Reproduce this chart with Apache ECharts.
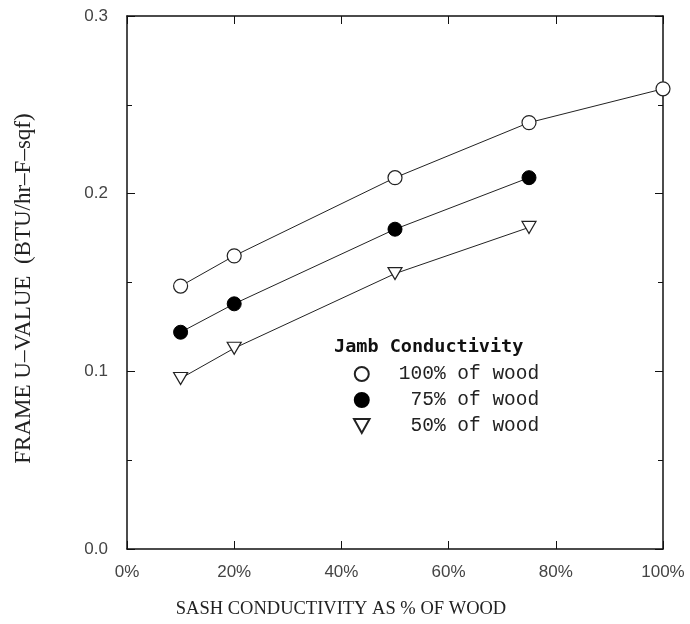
<!DOCTYPE html>
<html>
<head>
<meta charset="utf-8">
<script src="https://cdn.jsdelivr.net/npm/echarts@6/dist/echarts.min.js"></script>
<style>
  html, body { margin: 0; padding: 0; background: #fff; }
  #chart { width: 690px; height: 624px; }
</style>
</head>
<body>
<div id="chart"></div>
<script>
// sash conductivity (% of wood)
var sash = [10, 20, 50, 75, 100];
// frame U-value for each jamb conductivity
var jamb100 = [0.148, 0.165, 0.209, 0.240, 0.259];
var jamb75 = [0.122, 0.138, 0.180, 0.209];
var jamb50 = [0.096, 0.113, 0.155, 0.181];
var seriesNames = ['100% of wood', '75% of wood', '50% of wood'];

function pairs(xs, ys) {
    return ys.map(function (y, i) { return [xs[i], y]; });
}

var chart = echarts.init(document.getElementById('chart'));

var mono = 'Liberation Mono';
var sans = 'Liberation Sans';
var serif = 'Liberation Serif';
var axisLine = { show: true, onZero: false, lineStyle: { color: '#111', width: 1.5 } };
var tick = { show: true, inside: true, length: 8, lineStyle: { color: '#111' } };
var downTri = 'path://M0,0 L10,0 L5,9 Z';

var option = {
    backgroundColor: '#fff',
    animation: false,
    grid: { left: 127, right: 27, top: 16, bottom: 75, outerBoundsMode: 'none' },
    xAxis: [{
        type: 'value', min: 0, max: 100, interval: 20,
        axisLine: axisLine, axisTick: tick,
        axisLabel: { color: '#444', fontFamily: sans, fontSize: 17, margin: 15,
            formatter: function (v) { return v + '%'; } },
        splitLine: { show: false },
        name: 'SASH CONDUCTIVITY AS % OF WOOD',
        nameLocation: 'middle', nameGap: 51,
        nameTextStyle: { color: '#222', fontFamily: serif, fontSize: 18.5, padding: [0, 108, 0, 0] }
    }, {
        type: 'value', min: 0, max: 100, interval: 20, position: 'top',
        axisLine: axisLine, axisTick: tick,
        axisLabel: { show: false }, splitLine: { show: false }
    }],
    yAxis: [{
        type: 'value', min: 0, max: 0.3, interval: 0.1,
        axisLine: axisLine, axisTick: tick,
        minorTick: { show: true, splitNumber: 2, length: 5, lineStyle: { color: '#111' } },
        axisLabel: { color: '#444', fontFamily: sans, fontSize: 17, margin: 19,
            formatter: function (v) { return v.toFixed(1); } },
        splitLine: { show: false },
        name: 'FRAME U–VALUE  (BTU/hr–F–sqf)',
        nameLocation: 'middle', nameGap: 92, nameRotate: 90,
        nameTextStyle: { color: '#222', fontFamily: serif, fontSize: 23, padding: [0, 12, 0, 0] }
    }, {
        type: 'value', min: 0, max: 0.3, interval: 0.1, position: 'right',
        axisLine: axisLine, axisTick: tick,
        minorTick: { show: true, splitNumber: 2, length: 5, lineStyle: { color: '#111' } },
        axisLabel: { show: false }, splitLine: { show: false }
    }],
    legend: {
        orient: 'vertical', left: 348, top: 359, itemGap: 6,
        itemWidth: 16, itemHeight: 14,
        data: [
            { name: seriesNames[0], icon: 'circle' },
            { name: seriesNames[1], icon: 'circle' },
            { name: seriesNames[2], icon: downTri }
        ],
        formatter: function (name) { return name.length < 12 ? ' ' + name : name; },
        textStyle: { color: '#222', fontFamily: mono, fontSize: 19.5, lineHeight: 20,
            padding: [0, 0, 0, 24] }
    },
    graphic: [{
        type: 'text', left: 334, top: 338,
        style: { text: 'Jamb Conductivity', fill: '#111', font: 'bold 18.5px "DejaVu Sans Mono"' }
    }],
    series: [{
        name: seriesNames[0], type: 'line', data: pairs(sash, jamb100),
        symbol: 'circle', symbolSize: 14,
        lineStyle: { color: '#222', width: 1 },
        itemStyle: { color: '#fff', borderColor: '#222', borderWidth: 1.2 }
    }, {
        name: seriesNames[1], type: 'line', data: pairs(sash, jamb75),
        symbol: 'circle', symbolSize: 14,
        lineStyle: { color: '#222', width: 1 },
        itemStyle: { color: '#000', borderColor: '#000', borderWidth: 1 }
    }, {
        name: seriesNames[2], type: 'line', data: pairs(sash, jamb50),
        symbol: downTri, symbolSize: [14, 12],
        lineStyle: { color: '#222', width: 1 },
        itemStyle: { color: '#fff', borderColor: '#222', borderWidth: 1.2 }
    }]
};

chart.setOption(option);
</script>
</body>
</html>
